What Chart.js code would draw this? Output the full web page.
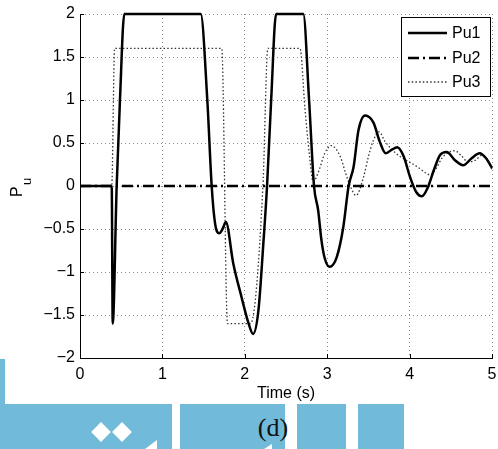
<!DOCTYPE html>
<html>
<head>
<meta charset="utf-8">
<script src="https://cdn.jsdelivr.net/npm/chart.js@4/dist/chart.umd.min.js"></script>
<style>
  html, body { margin: 0; padding: 0; background: #fff; }
  #wrap { position: relative; width: 498px; height: 449px; overflow: hidden; background: #fff; }
  #c { position: absolute; left: 0; top: 0; }
  .blue { position: absolute; background: #72bada; }
  .white { position: absolute; background: #fff; }
  .dia { position: absolute; width: 14px; height: 14px; background: #fff; transform: rotate(45deg); }
  #lbl { position: absolute; left: 243px; top: 413px; width: 60px; text-align: center;
         font-family: "Liberation Serif", "DejaVu Serif", serif; font-size: 26px; color: #111; line-height: 30px; }
</style>
</head>
<body>
<div id="wrap">
  <canvas id="c" width="498" height="449"></canvas>
  <div class="blue" style="left:0;top:359px;width:5px;height:46px;"></div>
  <div class="blue" style="left:0;top:404px;width:404px;height:45px;"></div>
  <div class="white" style="left:172px;top:404px;width:8px;height:45px;"></div>
  <div class="white" style="left:285px;top:404px;width:12px;height:45px;"></div>
  <div class="white" style="left:346px;top:404px;width:12px;height:45px;"></div>
  <div class="dia" style="left:94px;top:425px;"></div>
  <div class="dia" style="left:115px;top:425px;"></div>
  <div class="white" style="left:145px;top:440px;width:0;height:0;background:transparent;border-left:12px solid transparent;border-bottom:9px solid #fff;"></div>
  <div class="white" style="left:264px;top:444px;width:0;height:0;background:transparent;border-left:8px solid transparent;border-bottom:5px solid #fff;"></div>
  <div id="lbl">(d)</div>
</div>
<script>
// ---- data ----
const xTickValues = [0, 1, 2, 3, 4, 5];
const yTickValues = [-2, -1.5, -1, -0.5, 0, 0.5, 1, 1.5, 2];
const seriesNames = ["Pu1", "Pu2", "Pu3"];

const pu1Time = [0, 0.385, 0.397, 0.445, 0.485, 0.538, 1.465, 1.545, 1.598, 1.64, 1.69, 1.73, 1.77, 1.86, 1.96, 2.04, 2.10, 2.165, 2.225, 2.27, 2.32, 2.38, 2.71, 2.78, 2.84, 2.89, 2.93, 2.97, 3.03, 3.115, 3.195, 3.26, 3.32, 3.38, 3.46, 3.56, 3.64, 3.71, 3.78, 3.85, 3.93, 4.0, 4.08, 4.15, 4.22, 4.3, 4.37, 4.45, 4.55, 4.65, 4.75, 4.85, 4.93, 5.0];
const pu1Value = [0, 0, -1.6, 0, 1.0, 2, 2, 1.0, 0, -0.44, -0.55, -0.5, -0.42, -0.9, -1.29, -1.58, -1.72, -1.45, -0.67, 0, 1.0, 2, 2, 1.0, 0, -0.28, -0.63, -0.84, -0.94, -0.83, -0.48, 0, 0.22, 0.65, 0.82, 0.74, 0.51, 0.38, 0.42, 0.45, 0.34, 0.12, -0.07, -0.12, -0.02, 0.2, 0.36, 0.395, 0.3, 0.24, 0.32, 0.38, 0.32, 0.21];

const pu2Time = [0, 5];
const pu2Value = [0, 0];

const pu3Time = [0, 0.385, 0.42, 1.72, 1.79, 2.07, 2.22, 2.28, 2.67, 2.73, 2.78, 2.83, 2.9, 2.97, 3.05, 3.16, 3.22, 3.28, 3.35, 3.44, 3.5, 3.56, 3.63, 3.70, 3.78, 3.86, 3.98, 4.1, 4.2, 4.25, 4.32, 4.39, 4.47, 4.55, 4.63, 4.71, 4.8, 4.88, 4.95, 5.0];
const pu3Value = [0, 0, 1.6, 1.6, -1.6, -1.6, 0, 1.6, 1.6, 0.9, 0.4, 0.05, 0.18, 0.38, 0.47, 0.34, 0.16, 0.0, -0.11, 0.1, 0.34, 0.53, 0.63, 0.52, 0.43, 0.36, 0.29, 0.22, 0.15, 0.13, 0.2, 0.32, 0.39, 0.41, 0.35, 0.28, 0.3, 0.36, 0.3, 0.19];

const toXY = (t, v) => t.map((x, i) => ({ x: x, y: v[i] }));

const FONT = '"Liberation Sans", Arial, sans-serif';
const fmt = v => String(v).replace('-', '\u2212');

const styles = [
  { borderColor: '#000', borderWidth: 2.5, borderDash: [] },
  { borderColor: '#000', borderWidth: 2.5, borderDash: [11, 4, 2, 4] },
  { borderColor: '#333', borderWidth: 1.3, borderDash: [1.5, 2.2] }
];

const decorPlugin = {
  id: 'decor',
  afterDraw(chart) {
    const ctx = chart.ctx;
    const ca = chart.chartArea;
    const xs = chart.scales.x, ys = chart.scales.y;
    ctx.save();
    // inward ticks
    ctx.strokeStyle = '#000';
    ctx.lineWidth = 1;
    ctx.beginPath();
    xTickValues.forEach(v => {
      const px = Math.round(xs.getPixelForValue(v)) + 0.5;
      ctx.moveTo(px, ca.bottom); ctx.lineTo(px, ca.bottom - 4);
    });
    yTickValues.forEach(v => {
      const py = Math.round(ys.getPixelForValue(v)) + 0.5;
      ctx.moveTo(ca.left, py); ctx.lineTo(ca.left + 4, py);
    });
    ctx.stroke();

    // axis titles
    ctx.fillStyle = '#000';
    ctx.font = '16px ' + FONT;
    ctx.textAlign = 'center';
    ctx.textBaseline = 'alphabetic';
    ctx.fillText('Time (s)', 286, 398);

    ctx.save();
    ctx.translate(22, 197);
    ctx.rotate(-Math.PI / 2);
    ctx.textAlign = 'left';
    ctx.font = '16px ' + FONT;
    ctx.fillText('P', 0, 0);
    ctx.font = '13px ' + FONT;
    ctx.fillText('u', 12, 9);
    ctx.restore();

    // legend
    const lx = 401.5, ly = 17.5, lw = 89, lh = 79;
    ctx.fillStyle = '#fff';
    ctx.fillRect(lx, ly, lw, lh);
    ctx.strokeStyle = '#000';
    ctx.lineWidth = 1;
    ctx.setLineDash([]);
    ctx.strokeRect(lx, ly, lw, lh);
    const rows = [33, 58, 82];
    seriesNames.forEach((name, i) => {
      const st = styles[i];
      ctx.save();
      ctx.strokeStyle = st.borderColor;
      ctx.lineWidth = st.borderWidth;
      ctx.setLineDash(st.borderDash);
      ctx.beginPath();
      ctx.moveTo(408, rows[i]);
      ctx.lineTo(447, rows[i]);
      ctx.stroke();
      ctx.restore();
      ctx.fillStyle = '#000';
      ctx.font = '16px ' + FONT;
      ctx.textAlign = 'left';
      ctx.textBaseline = 'middle';
      ctx.fillText(name, 452, rows[i] + 1);
    });
    ctx.restore();
  }
};

const datasets = [
  { label: seriesNames[0], data: toXY(pu1Time, pu1Value) },
  { label: seriesNames[1], data: toXY(pu2Time, pu2Value) },
  { label: seriesNames[2], data: toXY(pu3Time, pu3Value) }
].map((d, i) => Object.assign(d, styles[i], {
  pointRadius: 0, fill: false, cubicInterpolationMode: 'monotone', clip: 6, order: i === 1 ? 0 : (i === 0 ? 1 : 2)
}));

new Chart(document.getElementById('c'), {
  type: 'line',
  data: { datasets: datasets },
  options: {
    responsive: false,
    animation: false,
    devicePixelRatio: 1,
    layout: { padding: { top: 14, right: 6, left: 0, bottom: 0 } },
    plugins: { legend: { display: false }, tooltip: { enabled: false } },
    scales: {
      x: {
        type: 'linear', min: 0, max: 5,
        afterBuildTicks: s => { s.ticks = xTickValues.map(v => ({ value: v })); },
        afterFit: s => { s.height = 91; s.paddingRight = 0; s.paddingLeft = 0; },
        ticks: { padding: 7, color: '#000', font: { family: FONT, size: 16 }, maxRotation: 0, callback: v => fmt(v) },
        grid: { color: '#8a8a8a', lineWidth: 1, drawTicks: false },
        border: { display: true, color: '#000', width: 1, dash: [1, 3] }
      },
      y: {
        type: 'linear', min: -2, max: 2,
        afterBuildTicks: s => { s.ticks = yTickValues.map(v => ({ value: v })); },
        afterFit: s => { s.width = 80; s.paddingTop = 0; s.paddingBottom = 0; },
        ticks: { padding: 5, color: '#000', font: { family: FONT, size: 16 }, callback: v => fmt(v) },
        grid: { color: '#8a8a8a', lineWidth: 1, drawTicks: false },
        border: { display: true, color: '#000', width: 1, dash: [1, 3] }
      }
    }
  },
  plugins: [decorPlugin]
});
</script>
</body>
</html>
